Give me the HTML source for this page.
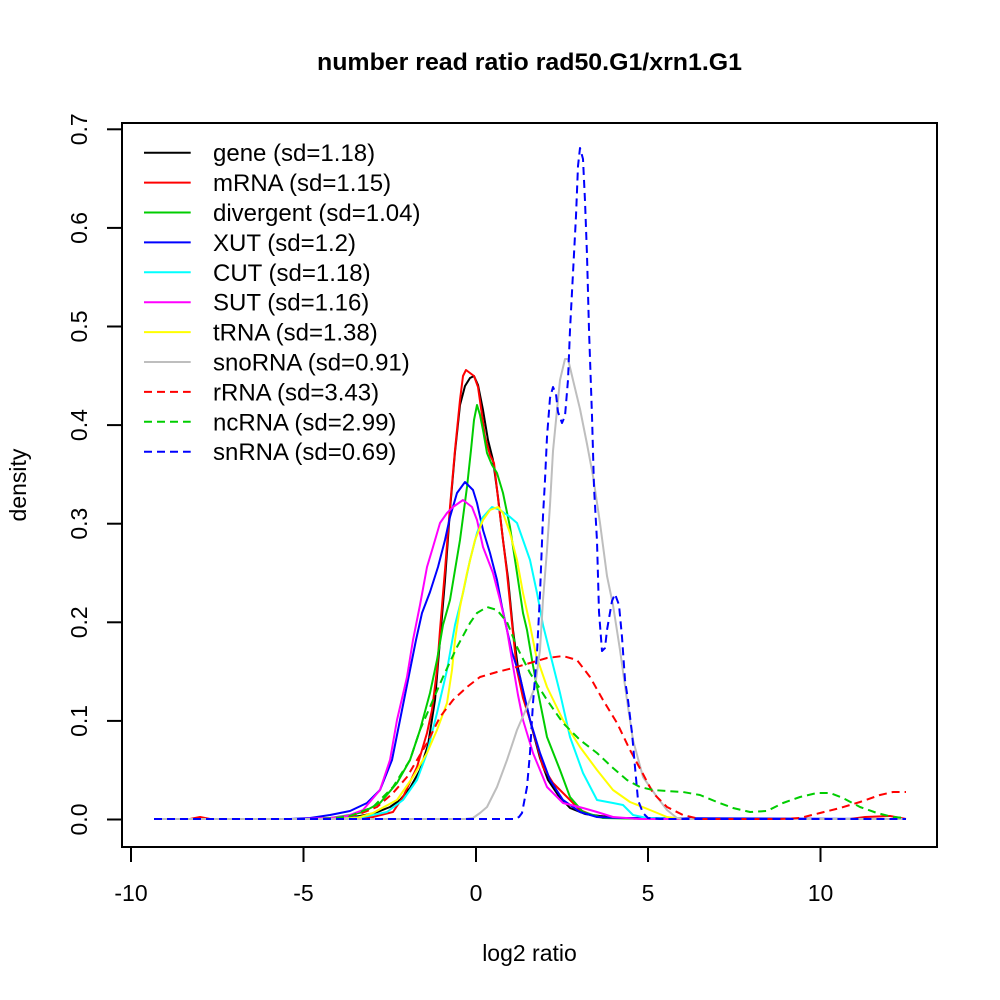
<!DOCTYPE html>
<html><head><meta charset="utf-8"><style>
html,body{margin:0;padding:0;background:#fff;}
svg{display:block;}
text{font-family:"Liberation Sans",Arial,sans-serif;fill:#000;}
</style></head><body>
<svg width="1000" height="1000" viewBox="0 0 1000 1000" xmlns="http://www.w3.org/2000/svg">
<rect width="1000" height="1000" fill="#fff"/>
<text x="529.5" y="70" font-size="24" font-weight="bold" text-anchor="middle" textLength="425" lengthAdjust="spacingAndGlyphs">number read ratio rad50.G1/xrn1.G1</text>
<g fill="none" stroke-width="2" stroke-linejoin="round" stroke-linecap="butt">
<polyline stroke="#000" points="154,819 330,819 345,818 360,816 375,813 390,807 400,800 410,788 420,770 428,745 435,700 440,640 445,580 450,510 455,452 460,405 465,386 470,378 474,376 478,385 483,410 488,440 493,460 498,497 503,540 508,578 513,630 518,668 525,700 532,728 540,758 548,780 558,795 570,808 585,814 600,816 620,818 700,819 906,819"/>
<polyline stroke="#ff0000" points="154,819 190,819 200,817 210,819 330,819 360,818 373,817 393,812 403,797 417,767 427,733 432,710 437,670 440,630 445,570 450,507 455,450 460,400 463,376 466,370 470,373 474,376 478,387 482,415 485,437 490,455 494,463 498,498 503,540 507,573 513,633 517,670 523,698 530,720 537,745 543,767 553,783 563,793 580,810 597,817 620,818 700,819 850,819 865,817 890,816 906,819"/>
<polyline stroke="#00cd00" points="154,819 300,819 330,818 350,815 363,812 380,803 397,783 410,760 420,730 430,693 437,660 443,625 450,600 455,570 460,540 467,487 471,450 474,420 477,405 480,415 483,430 487,453 492,465 497,473 503,493 510,527 517,573 523,613 527,630 532,660 537,687 547,737 560,770 570,797 583,812 603,818 650,819 906,819"/>
<polyline stroke="#0000ff" points="154,819 290,819 310,818 330,815 350,811 367,803 380,790 392,760 400,720 410,670 416,640 422,613 430,592 438,567 445,540 450,517 457,493 465,482 473,490 477,503 483,530 490,553 497,580 502,607 507,630 512,652 520,677 530,720 540,753 550,780 563,800 580,812 597,817 620,818 906,819"/>
<polyline stroke="#00ffff" points="154,819 330,819 363,817 387,812 403,800 417,780 427,753 437,713 447,670 455,625 460,605 463,593 470,560 477,533 483,517 492,507 500,510 510,517 517,523 523,540 530,560 537,593 543,625 550,653 560,693 570,737 583,773 597,800 613,803 623,805 633,815 647,818 680,819 906,819"/>
<polyline stroke="#ff00ff" points="154,819 300,819 330,818 347,816 363,810 380,790 390,760 397,720 407,677 413,640 420,605 427,567 433,547 440,523 447,513 453,507 463,500 472,507 477,520 483,547 493,573 500,600 507,630 512,660 518,695 523,720 533,753 547,787 563,803 583,808 597,812 613,817 640,819 906,819"/>
<polyline stroke="#ffff00" points="154,819 330,819 357,818 373,813 397,800 413,777 427,753 437,730 447,703 452,670 455,640 460,607 467,573 475,540 483,520 490,510 498,507 503,513 510,533 517,560 523,593 530,625 536,655 547,687 563,720 580,747 597,770 613,790 630,802 650,810 667,817 685,819 906,819"/>
<polyline stroke="#bebebe" points="154,819 465,819 473,818 480,813 487,807 497,787 507,760 517,730 527,707 535,687 540,650 543,600 547,550 550,505 553,451 557,410 560,380 565,359 568,359 573,380 580,409 587,444 593,476 600,523 607,576 613,605 620,650 627,700 633,740 643,777 657,797 667,810 677,818 690,819 906,819"/>
<g stroke-dasharray="8 5">
<polyline stroke="#ff0000" points="154,819 320,819 340,818 357,815 377,807 393,793 407,777 417,760 427,743 440,717 453,700 467,687 480,677 497,672 513,668 530,663 547,658 563,656 577,660 590,677 603,700 617,723 630,750 643,774 653,793 667,807 683,815 700,819 780,819 800,818 820,813 840,808 860,802 880,795 893,792 906,792"/>
<polyline stroke="#00cd00" points="154,819 320,819 335,818 350,816 373,807 393,787 410,760 420,730 430,707 443,677 457,647 470,623 477,613 487,607 497,610 507,622 517,647 530,673 547,700 563,723 580,740 597,753 613,768 627,780 640,787 653,790 667,791 683,792 700,795 717,802 733,808 750,812 767,811 783,803 800,797 817,793 830,793 843,798 860,807 877,813 893,817 906,818"/>
<polyline stroke="#0000ff" points="154,819 515,819 519,817 522,813 527,787 530,753 533,703 537,653 540,594 543,516 545,480 547,437 550,398 553,387 556,394 558,412 562,423 565,416 568,380 570,330 573,273 576,216 578,166 580,148 583,159 585,201 587,255 589,330 592,416 594,487 597,541 599,612 602,651 605,648 607,630 612,601 615,594 619,605 622,637 625,680 628,700 632,733 635,767 638,800 643,813 648,818 660,819 906,819"/>
</g>
</g>
<g stroke="#000" stroke-width="2" fill="none">
<rect x="122" y="123" width="815" height="724"/>
<line x1="131" y1="847" x2="131" y2="862"/>
<line x1="303.5" y1="847" x2="303.5" y2="862"/>
<line x1="476" y1="847" x2="476" y2="862"/>
<line x1="648" y1="847" x2="648" y2="862"/>
<line x1="820.5" y1="847" x2="820.5" y2="862"/>
<line x1="107" y1="819.5" x2="122" y2="819.5"/>
<line x1="107" y1="720.9" x2="122" y2="720.9"/>
<line x1="107" y1="622.3" x2="122" y2="622.3"/>
<line x1="107" y1="523.7" x2="122" y2="523.7"/>
<line x1="107" y1="425.1" x2="122" y2="425.1"/>
<line x1="107" y1="326.5" x2="122" y2="326.5"/>
<line x1="107" y1="227.9" x2="122" y2="227.9"/>
<line x1="107" y1="129.3" x2="122" y2="129.3"/>
</g>
<g font-size="23" text-anchor="middle">
<text x="131" y="901">-10</text>
<text x="303.5" y="901">-5</text>
<text x="476" y="901">0</text>
<text x="648" y="901">5</text>
<text x="820.5" y="901">10</text>
<text transform="translate(87,819.5) rotate(-90)">0.0</text>
<text transform="translate(87,720.9) rotate(-90)">0.1</text>
<text transform="translate(87,622.3) rotate(-90)">0.2</text>
<text transform="translate(87,523.7) rotate(-90)">0.3</text>
<text transform="translate(87,425.1) rotate(-90)">0.4</text>
<text transform="translate(87,326.5) rotate(-90)">0.5</text>
<text transform="translate(87,227.9) rotate(-90)">0.6</text>
<text transform="translate(87,129.3) rotate(-90)">0.7</text>
<text x="529.5" y="961">log2 ratio</text>
<text transform="translate(26,485) rotate(-90)">density</text>
</g>
<g stroke-width="2">
<line x1="144" y1="152.7" x2="190.7" y2="152.7" stroke="#000"/>
<line x1="144" y1="182.6" x2="190.7" y2="182.6" stroke="#ff0000"/>
<line x1="144" y1="212.5" x2="190.7" y2="212.5" stroke="#00cd00"/>
<line x1="144" y1="242.4" x2="190.7" y2="242.4" stroke="#0000ff"/>
<line x1="144" y1="272.3" x2="190.7" y2="272.3" stroke="#00ffff"/>
<line x1="144" y1="302.2" x2="190.7" y2="302.2" stroke="#ff00ff"/>
<line x1="144" y1="332.1" x2="190.7" y2="332.1" stroke="#ffff00"/>
<line x1="144" y1="362.0" x2="190.7" y2="362.0" stroke="#bebebe"/>
<g stroke-dasharray="8 5">
<line x1="144" y1="391.9" x2="190.7" y2="391.9" stroke="#ff0000"/>
<line x1="144" y1="421.8" x2="190.7" y2="421.8" stroke="#00cd00"/>
<line x1="144" y1="451.7" x2="190.7" y2="451.7" stroke="#0000ff"/>
</g>
</g>
<g font-size="24">
<text x="213" y="161.2">gene (sd=1.18)</text>
<text x="213" y="191.1">mRNA (sd=1.15)</text>
<text x="213" y="221.0">divergent (sd=1.04)</text>
<text x="213" y="250.9">XUT (sd=1.2)</text>
<text x="213" y="280.8">CUT (sd=1.18)</text>
<text x="213" y="310.7">SUT (sd=1.16)</text>
<text x="213" y="340.6">tRNA (sd=1.38)</text>
<text x="213" y="370.5">snoRNA (sd=0.91)</text>
<text x="213" y="400.4">rRNA (sd=3.43)</text>
<text x="213" y="430.3">ncRNA (sd=2.99)</text>
<text x="213" y="460.2">snRNA (sd=0.69)</text>
</g>
</svg>
</body></html>
